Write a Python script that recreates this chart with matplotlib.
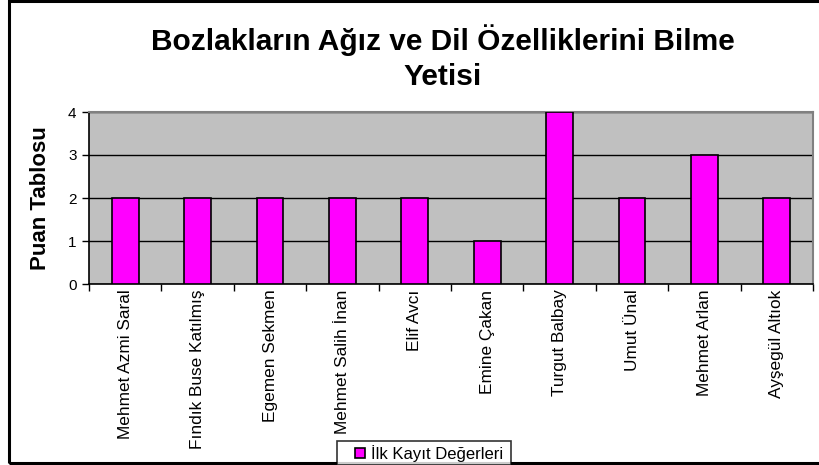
import matplotlib
matplotlib.use("Agg")
import matplotlib.pyplot as plt
from matplotlib.patches import Rectangle
from matplotlib.lines import Line2D
import numpy as np

plt.rcParams["font.family"] = ["Liberation Sans", "DejaVu Sans"]

# data
names = [
    "Mehmet Azmi Saral",
    "Fındık Buse Katılmış",
    "Egemen Sekmen",
    "Mehmet Salih İnan",
    "Elif Avcı",
    "Emine Çakan",
    "Turgut Balbay",
    "Umut Ünal",
    "Mehmet Arlan",
    "Ayşegül Altıok",
]
scores = [2, 2, 2, 2, 2, 1, 4, 2, 3, 2]
series_name = "İlk Kayıt Değerleri"
title = "Bozlakların Ağız ve Dil Özelliklerini Bilme\nYetisi"
y_label = "Puan Tablosu"

fig = plt.figure(figsize=(8.19, 4.65), dpi=100)
ax = fig.add_axes([89 / 819, 1 - 284 / 465, (813 - 89) / 819, (284 - 112) / 465])

x = np.arange(len(names))
ax.set_facecolor("#C0C0C0")
ax.bar(x, scores, width=0.37, color="#FF00FF", edgecolor="black",
       linewidth=1.2, zorder=3)

ax.set_xlim(-0.5, len(names) - 0.5)
ax.set_ylim(0, 4)
ax.set_yticks(range(5))
ax.yaxis.grid(True, color="black", linewidth=1.0, zorder=1)
ax.tick_params(axis="y", direction="out", length=5, width=1, labelsize=11, pad=4)

# category ticks sit between the bars, labels centered under bars
ax.set_xticks(np.arange(-0.5, len(names) + 0.5, 1.0))
ax.set_xticklabels([])
ax.set_xticks(x, minor=True)
ax.set_xticklabels(names, minor=True, rotation=90, fontsize=12.4, va="top")
ax.tick_params(axis="x", which="major", direction="out", length=5, width=1)
ax.tick_params(axis="x", which="minor", length=0, pad=4)

for side in ["left", "bottom"]:
    ax.spines[side].set_color("black")
    ax.spines[side].set_linewidth(1.2)
for side in ["top", "right"]:
    ax.spines[side].set_color("#808080")
    ax.spines[side].set_linewidth(1.5)

ax.set_ylabel(y_label, fontsize=16, fontweight="bold", labelpad=12)

fig.text(443 / 819, 1 - 58 / 465, title, ha="center", va="center",
         fontsize=21.5, fontweight="bold", linespacing=1.32)

# legend
handle = Line2D([], [], marker="s", markersize=7, markerfacecolor="#FF00FF",
                markeredgecolor="black", markeredgewidth=1.2, linestyle="none")
leg = fig.legend([handle], [series_name + " "], loc="upper center",
                 bbox_to_anchor=(424 / 819, 1 - 441 / 465),
                 fontsize=12, frameon=True, fancybox=False, borderpad=0.22,
                 handlelength=2.3, handletextpad=-0.5, borderaxespad=0)
leg.get_frame().set_edgecolor("black")
leg.get_frame().set_linewidth(1.2)

# outer chart border
fig.patches.append(Rectangle((8.5 / 819, 1 - 463 / 465), 1.0, (463 - 1.5) / 465,
                             transform=fig.transFigure, fill=False,
                             edgecolor="black", linewidth=2.2))

fig.savefig("out.png", dpi=100)
